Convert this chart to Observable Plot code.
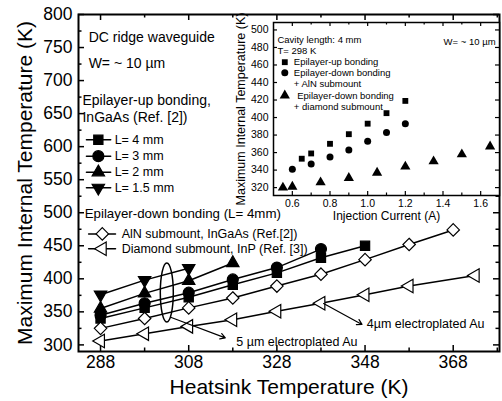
<!DOCTYPE html>
<html><head><meta charset="utf-8">
<script src="https://cdn.jsdelivr.net/npm/d3@7"></script>
<script src="https://cdn.jsdelivr.net/npm/@observablehq/plot@0.6"></script>
<style>
body{margin:0;background:#fff;}
#wrap{position:relative;width:502px;height:401px;overflow:hidden;}
#wrap svg{position:absolute;top:0;}
</style></head><body><div id="wrap"></div>
<script>
const FONT = '"Liberation Sans", Arial, Helvetica, sans-serif';

// ---------- Main chart data ----------
const tempsK = [288, 298, 308, 318, 328, 338, 348, 358, 368];
const upL4mm = [340, 356, 372, 391, 409, 432, 450];
const upL3mm = [345, 363, 379, 399, 417, 445];
const upL2mm = [355, 378, 397, 424];
const upL15mm = [376, 398, 416];
const downAlN = [325, 340, 356, 371, 389, 407, 429, 452, 474];
const tempsInP = [288, 298, 308, 318, 328, 338, 348, 358, 373];
const downDiamondInP = [306, 317, 328, 338, 351, 363, 376, 389, 405];

const xTicksMajor = [288, 308, 328, 348, 368];
const xTicksMinor = [298, 318, 338, 358, 378];
const yTicksMajor = [300, 350, 400, 450, 500, 550, 600, 650, 700, 750, 800];
const yTicksMinor = [325, 375, 425, 475, 525, 575, 625, 675, 725, 775];

// ---------- Inset data ----------
const currentUp = [0.65, 0.7, 0.8, 0.9, 1.0, 1.1, 1.2];
const tempUp = [353, 359, 370, 381, 393, 405, 419];
const currentAlN = [0.6, 0.7, 0.8, 0.9, 1.0, 1.1, 1.2];
const tempAlN = [341, 347, 355, 363, 373, 383, 393];
const currentDiamond = [0.55, 0.6, 0.75, 0.9, 1.05, 1.2, 1.35, 1.5, 1.65];
const tempDiamond = [320, 321, 326, 331, 337, 344, 350, 358, 367];

const insetXTicks = [0.6, 0.8, 1.0, 1.2, 1.4, 1.6];
const insetXMinor = [0.7, 0.9, 1.1, 1.3, 1.5];
const insetYTicks = [320, 340, 360, 380, 400, 420, 440, 460, 480, 500];

// ---------- custom symbols ----------
const s3 = Math.sqrt(3);
const triDown = {draw(c, size){ const y = -Math.sqrt(size/(s3*3)); c.moveTo(0,-2*y); c.lineTo(-s3*y, y); c.lineTo(s3*y, y); c.closePath(); }};
const triLeft = {draw(c, size){ const y = -Math.sqrt(size/(s3*3)); c.moveTo(2*y,0); c.lineTo(-y, -s3*y); c.lineTo(-y, s3*y); c.closePath(); }};
const ellipseSym = {draw(c){ const rx=6.5, ry=29.5, k=0.5523;
  c.moveTo(rx,0); c.bezierCurveTo(rx, ry*k, rx*k, ry, 0, ry); c.bezierCurveTo(-rx*k, ry, -rx, ry*k, -rx, 0);
  c.bezierCurveTo(-rx, -ry*k, -rx*k, -ry, 0, -ry); c.bezierCurveTo(rx*k, -ry, rx, -ry*k, rx, 0); c.closePath(); }};

const series = [
  {key:"L4", xs: tempsK, ys: upL4mm, symbol:"square", r:5.2, fill:"black"},
  {key:"L3", xs: tempsK, ys: upL3mm, symbol:"circle", r:5.5, fill:"black"},
  {key:"L2", xs: tempsK, ys: upL2mm, symbol:"triangle", r:4.6, fill:"black"},
  {key:"L15", xs: tempsK, ys: upL15mm, symbol:triDown, r:4.6, fill:"black"},
  {key:"AlN", xs: tempsK, ys: downAlN, symbol:"diamond2", r:5.6, fill:"white"},
  {key:"Dia", xs: tempsInP, ys: downDiamondInP, symbol:triLeft, r:5.0, fill:"white"}
];
const rows = series.flatMap(s => s.ys.map((y,i) => ({key:s.key, x:s.xs[i], y})));

// legend (data coordinates of the main panel)
const legendUp = [
  {label:"L= 4 mm", y:610.4, s:0}, {label:"L= 3 mm", y:585.6, s:1},
  {label:"L= 2 mm", y:561.3, s:2}, {label:"L= 1.5 mm", y:537.7, s:3}
];
const legendDown = [
  {label:"AlN submount, InGaAs (Ref.[2])", y:468, s:4},
  {label:"Diamond submount, InP (Ref. [3])", y:445.4, s:5}
];
const notesBig = [
  {x:285.3, y:765.2, t:"DC ridge waveguide"},
  {x:285.3, y:725.8, t:"W= ~ 10 µm"},
  {x:283.9, y:669.9, t:"Epilayer-up bonding,"},
  {x:283.9, y:644.1, t:"InGaAs (Ref. [2])"}
];
const notesDown = [{x:284.4, y:498.4, t:"Epilayer-down bonding (L= 4mm)"}];
const notesSmall = [
  {x:318.8, y:305, t:"5 µm electroplated Au"},
  {x:348.4, y:331.5, t:"4µm electroplated Au"}
];
const arrows = [
  {x1:303.9, y1:341.9, x2:316.3, y2:310.6},
  {x1:338.6, y1:362.5, x2:347.3, y2:331.0}
];
const ellipseAt = [{x:303.03, y:379.3}];

const xDom = [283, 378.5], yDom = [290, 800];
const mL=78, mR=3, mT=14, mB=50;
const kx = (502-mL-mR)/(xDom[1]-xDom[0]);
const ky = (401-mT-mB)/(yDom[1]-yDom[0]);

function ticksMarks(xMaj, xMin, yMaj, yMin, xd, yd, kx, ky, Lmaj, Lmin, sw){
  const m = [];
  for (const [arr, L] of [[xMaj, Lmaj],[xMin, Lmin]]) {
    m.push(Plot.ruleX(arr, {x:d=>d, y1:yd[0], y2:yd[0]+L/ky, stroke:"black", strokeWidth:sw}));
    m.push(Plot.ruleX(arr, {x:d=>d, y1:yd[1], y2:yd[1]-L/ky, stroke:"black", strokeWidth:sw}));
  }
  for (const [arr, L] of [[yMaj, Lmaj],[yMin, Lmin]]) {
    m.push(Plot.ruleY(arr, {y:d=>d, x1:xd[0], x2:xd[0]+L/kx, stroke:"black", strokeWidth:sw}));
    m.push(Plot.ruleY(arr, {y:d=>d, x1:xd[1], x2:xd[1]-L/kx, stroke:"black", strokeWidth:sw}));
  }
  return m;
}

const legLineUp = legendUp.flatMap(d => [{k:d.label, x:284.8, y:d.y}, {k:d.label, x:290.3, y:d.y}]);
const legLineDown = legendDown.flatMap(d => [{k:d.label, x:285.3, y:d.y}, {k:d.label, x:291.4, y:d.y}]);

const main = Plot.plot({
  width: 502, height: 401,
  marginLeft: mL, marginRight: mR, marginTop: mT, marginBottom: mB,
  style: {fontFamily: FONT, fontSize: "17.5px", background: "white", color: "black"},
  x: {domain: xDom, ticks: xTicksMajor, tickSize: 0, tickPadding: 4, label: null},
  y: {domain: yDom, ticks: yTicksMajor, tickSize: 0, tickPadding: 6, label: null},
  marks: [
    ...ticksMarks(xTicksMajor, xTicksMinor, yTicksMajor, yTicksMinor, xDom, yDom, kx, ky, 6, 3.5, 1.5),
    Plot.line(rows, {x:"x", y:"y", z:"key", stroke:"black", strokeWidth:1.5}),
    Plot.line(legLineUp, {x:"x", y:"y", z:"k", stroke:"black", strokeWidth:1.5}),
    Plot.line(legLineDown, {x:"x", y:"y", z:"k", stroke:"black", strokeWidth:1.5}),
    ...series.map(s => Plot.dot(rows.filter(d => d.key === s.key), {x:"x", y:"y", symbol:s.symbol, r:s.r, fill:s.fill, stroke:"black", strokeWidth:1.2})),
    ...legendUp.map(d => Plot.dot([d], {x:()=>287.5, y:"y", symbol:series[d.s].symbol, r:series[d.s].r, fill:series[d.s].fill, stroke:"black", strokeWidth:1.2})),
    ...legendDown.map(d => Plot.dot([d], {x:()=>288.4, y:"y", symbol:series[d.s].symbol, r:series[d.s].r, fill:series[d.s].fill, stroke:"black", strokeWidth:1.2})),
    Plot.text(legendUp, {x:()=>291.2, y:"y", text:"label", textAnchor:"start", fontSize:12.5}),
    Plot.text(legendDown, {x:()=>292.8, y:"y", text:"label", textAnchor:"start", fontSize:12.5}),
    Plot.text(notesBig, {x:"x", y:"y", text:"t", textAnchor:"start", fontSize:14}),
    Plot.text(notesDown, {x:"x", y:"y", text:"t", textAnchor:"start", fontSize:13.3}),
    Plot.text(notesSmall, {x:"x", y:"y", text:"t", textAnchor:"start", fontSize:12.5}),
    Plot.dot(ellipseAt, {x:"x", y:"y", symbol:ellipseSym, r:1, fill:"none", stroke:"black", strokeWidth:1.5}),
    Plot.arrow(arrows, {x1:"x1", y1:"y1", x2:"x2", y2:"y2", stroke:"black", strokeWidth:1.2, headLength:7}),
    Plot.text(["Heatsink Temperature (K)"], {x:()=>(xDom[0]+xDom[1])/2, y:()=>yDom[0], dy:36, text:d=>d, fontSize:21}),
    Plot.text(["Maximum Internal Temperature (K)"], {x:()=>xDom[0], y:()=>(yDom[0]+yDom[1])/2, dx:-53, rotate:-90, text:d=>d, fontSize:21}),
    Plot.frame({stroke:"black", strokeWidth:2})
  ]
});

// ---------- inset ----------
const insetRows = [
  ...currentUp.map((x,i)=>({k:"up", x, y:tempUp[i]})),
  ...currentAlN.map((x,i)=>({k:"aln", x, y:tempAlN[i]})),
  ...currentDiamond.map((x,i)=>({k:"dia", x, y:tempDiamond[i]}))
];
const insetSym = {up:{symbol:"square", r:3.3}, aln:{symbol:"circle", r:3.5}, dia:{symbol:"triangle", r:3.8}};
const insetLegend = [
  {k:"up", y:463.2, label:"Epilayer-up bonding", tx:0.608},
  {k:"aln", y:451.1, label:"Epilayer-down bonding", tx:0.608},
  {k:"dia", y:425.2, label:"Epilayer-down bonding", tx:0.626}
];
const insetNotes = [
  {x:0.521, y:488.7, t:"Cavity length: 4 mm"},
  {x:0.521, y:475.7, t:"T= 298 K"},
  {x:0.608, y:438.5, t:"+ AlN submount"},
  {x:0.608, y:412.6, t:"+ diamond submount"}
];
const ixDom = [0.5, 1.7], iyDom = [311, 508.5];
const iW = 277, iH = 225, imL = 48, imR = 3, imT = 22, imB = 30;
const ikx = (iW-imL-imR)/(ixDom[1]-ixDom[0]);
const iky = (iH-imT-imB)/(iyDom[1]-iyDom[0]);

const inset = Plot.plot({
  width: iW, height: iH, marginLeft: imL, marginRight: imR, marginTop: imT, marginBottom: imB,
  style: {fontFamily: FONT, fontSize: "10.5px", background: "transparent", color: "black", overflow:"visible"},
  x: {domain: ixDom, ticks: insetXTicks, tickSize: 0, tickPadding: 4, tickFormat: d3.format(".1f"), label: null},
  y: {domain: iyDom, ticks: insetYTicks, tickSize: 0, tickPadding: 5, label: null},
  marks: [
    Plot.frame({fill:"white", stroke:"none"}),
    ...ticksMarks(insetXTicks, insetXMinor, insetYTicks, [], ixDom, iyDom, ikx, iky, 4, 2.5, 1.2),
    ...Object.keys(insetSym).map(k => Plot.dot(insetRows.filter(d=>d.k===k), {x:"x", y:"y", symbol:insetSym[k].symbol, r:insetSym[k].r, fill:"black"})),
    ...insetLegend.map(d => Plot.dot([d], {x:()=>0.56, y:"y", symbol:insetSym[d.k].symbol, r:insetSym[d.k].r, fill:"black"})),
    Plot.text(insetLegend, {x:"tx", y:"y", text:"label", textAnchor:"start", fontSize:9.5}),
    Plot.text(insetNotes, {x:"x", y:"y", text:"t", textAnchor:"start", fontSize:9.5}),
    Plot.text([{x:1.679, y:486, t:"W= ~ 10 µm"}], {x:"x", y:"y", text:"t", textAnchor:"end", fontSize:9.5}),
    Plot.text(["Injection Current (A)"], {x:()=>(ixDom[0]+ixDom[1])/2, y:()=>iyDom[0], dy:21, text:d=>d, fontSize:12}),
    Plot.text(["Maximum Internal Temperature (K)"], {x:()=>ixDom[0], y:()=>(iyDom[0]+iyDom[1])/2, dx:-33, rotate:-90, text:d=>d, fontSize:12.5}),
    Plot.frame({stroke:"black", strokeWidth:1.5})
  ]
});

const wrap = document.getElementById("wrap");
main.style.left = "0px";
inset.style.left = "225px";
wrap.append(main, inset);
</script></body></html>
